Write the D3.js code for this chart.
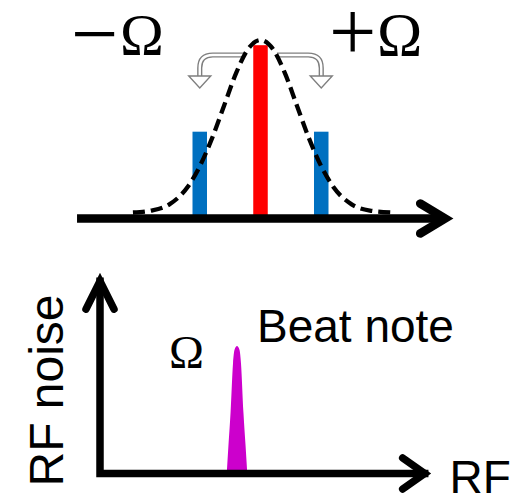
<!DOCTYPE html>
<html>
<head>
<meta charset="utf-8">
<script src="https://cdn.jsdelivr.net/npm/d3@7"></script>
<style>
  html, body { margin: 0; padding: 0; background: #fff; }
  svg { display: block; }
</style>
</head>
<body>
<svg id="chart" width="523" height="496"></svg>
<script>
// ---- Optical spectrum (frequency in units of Ω, carrier at 0) ----
const lineFreqs  = [-1, 0, 1];
const lineLevels = [0.47, 0.97, 0.47];
const lineColors = ["#0070C0", "#FF0000", "#0070C0"];

// Laser line profile drawn as a dashed envelope
const profileFreqs  = [-2.1, -1.8, -1.5, -1.2, -1.0, -0.8, -0.6, -0.4, -0.2, 0, 0.2, 0.4, 0.6, 0.8, 1.0, 1.2, 1.5, 1.8, 2.15];
const profileLevels = [0.003, 0.014, 0.05, 0.15, 0.27, 0.43, 0.62, 0.81, 0.95, 1, 0.95, 0.81, 0.62, 0.43, 0.27, 0.15, 0.05, 0.014, 0.003];

// ---- RF spectrum (frequency in units of Ω) ----
const beatFreqs  = [0.927, 0.938, 0.953, 0.971, 0.982, 1, 1.018, 1.029, 1.047, 1.062, 1.073];
const beatLevels = [0, 0.2, 0.46, 0.86, 0.97, 1, 0.97, 0.86, 0.46, 0.2, 0];

// Text
const sideLabels = ["−", "+"];
const omegaLabel = "Ω";
const beatLabel  = "Beat note";
const xLabel     = "RF";
const yLabel     = "RF noise";

const svg = d3.select("#chart");
const serif = "'Liberation Serif', 'Times New Roman', serif";
const sans  = "'Liberation Sans', Arial, sans-serif";

// ================= optical panel =================
const xTop = d3.scaleLinear().domain([-3, 3.2]).range([78.25, 454.9]);
const yTop = d3.scaleLinear().domain([0, 1]).range([213, 40]);
const topAxisY = 218.5;
const optical = svg.append("g");

// carrier and sidebands
const barW = 14.5;
optical.selectAll("rect.line")
  .data(lineFreqs.map((f, i) => ({ f, v: lineLevels[i], c: lineColors[i] })))
  .join("rect")
  .attr("class", "line")
  .attr("x", d => xTop(d.f) - barW / 2)
  .attr("width", barW)
  .attr("y", d => yTop(d.v))
  .attr("height", d => topAxisY - yTop(d.v))
  .attr("fill", d => d.c);

// hollow curved arrows from the carrier to each sideband
function hollowArrow(fromF, toF) {
  const x0 = xTop(fromF), x1 = xTop(toF);
  const yH = 55, r = 13, dir = Math.sign(x1 - x0);
  const p = d3.path();
  p.moveTo(x0, yH);
  p.lineTo(x1 - dir * r, yH);
  p.quadraticCurveTo(x1, yH, x1, yH + r);
  p.lineTo(x1, 76.5);
  const g = optical.append("g");
  g.append("path").attr("d", p.toString()).attr("fill", "none")
    .attr("stroke", "#7f7f7f").attr("stroke-width", 5.2);
  g.append("path").attr("d", p.toString()).attr("fill", "none")
    .attr("stroke", "#fff").attr("stroke-width", 2.4);
  const head = d3.path();
  head.moveTo(x1 - 11, 76);
  head.lineTo(x1 + 11, 76);
  head.lineTo(x1, 88);
  head.closePath();
  g.append("path").attr("d", head.toString())
    .attr("fill", "#fff").attr("stroke", "#7f7f7f").attr("stroke-width", 1.4)
    .attr("stroke-linejoin", "miter");
}
hollowArrow(-0.27, -1);
hollowArrow(0.27, 1);

// dashed line profile
optical.append("path")
  .datum(profileFreqs.map((f, i) => [f, profileLevels[i]]))
  .attr("d", d3.line().x(d => xTop(d[0])).y(d => yTop(d[1])).curve(d3.curveMonotoneX))
  .attr("fill", "none")
  .attr("stroke", "#000")
  .attr("stroke-width", 4.3)
  .attr("stroke-dasharray", "12,6");

// frequency axis with open arrowhead
const topEnd = xTop(3.04);
optical.append("path")
  .attr("d", d3.line()([[xTop(-3.02), topAxisY], [topEnd, topAxisY]]))
  .attr("stroke", "#000").attr("stroke-width", 8.5).attr("fill", "none");
optical.append("path")
  .attr("d", d3.line()([[topEnd - 25, topAxisY - 15], [topEnd, topAxisY], [topEnd - 25, topAxisY + 15]]))
  .attr("stroke", "#000").attr("stroke-width", 8.5).attr("fill", "none")
  .attr("stroke-linecap", "round").attr("stroke-linejoin", "miter");

// ±Ω labels
optical.append("text").attr("x", 71).attr("y", 62)
  .attr("font-family", serif).attr("font-size", 84).text(sideLabels[0]);
optical.append("text").attr("x", 120).attr("y", 55)
  .attr("font-family", serif).attr("font-size", 59).text(omegaLabel);
optical.append("text").attr("x", 329).attr("y", 60)
  .attr("font-family", serif).attr("font-size", 84).text(sideLabels[1]);
optical.append("text").attr("x", 377).attr("y", 55)
  .attr("font-family", serif).attr("font-size", 61).text(omegaLabel);

// ================= RF panel =================
const xBot = d3.scaleLinear().domain([0, 1]).range([100, 237]);
const yBot = d3.scaleLinear().domain([0, 1]).range([469, 346]);
const botAxisY = 473.5;
const rf = svg.append("g");

// beat note
rf.append("path")
  .datum(beatFreqs.map((f, i) => [f, beatLevels[i]]))
  .attr("d", d3.area().x(d => xBot(d[0])).y0(botAxisY).y1(d => yBot(d[1])).curve(d3.curveMonotoneX))
  .attr("fill", "#CC00CC");

// axes with open arrowheads
const xEnd = xBot(2.37);
const yEnd = yBot(1.527);
const axW = 7.5;
rf.append("path")
  .attr("d", d3.line()([[xBot(0), yEnd], [xBot(0), botAxisY], [xEnd, botAxisY]]))
  .attr("stroke", "#000").attr("stroke-width", axW).attr("fill", "none")
  .attr("stroke-linecap", "square").attr("stroke-linejoin", "miter");
rf.append("path")
  .attr("d", d3.line()([[xEnd - 22, botAxisY - 15.5], [xEnd, botAxisY], [xEnd - 22, botAxisY + 15.5]]))
  .attr("stroke", "#000").attr("stroke-width", axW).attr("fill", "none")
  .attr("stroke-linecap", "round").attr("stroke-linejoin", "miter");
rf.append("path")
  .attr("d", d3.line()([[xBot(0) - 14, yEnd + 28], [xBot(0), yEnd], [xBot(0) + 14, yEnd + 28]]))
  .attr("stroke", "#000").attr("stroke-width", axW).attr("fill", "none")
  .attr("stroke-linecap", "round").attr("stroke-linejoin", "miter");

// labels
rf.append("text").attr("x", 169).attr("y", 368)
  .attr("font-family", serif).attr("font-size", 47).text(omegaLabel);
rf.append("text").attr("x", 257).attr("y", 341.5)
  .attr("font-family", sans).attr("font-size", 46).text(beatLabel);
rf.append("text").attr("x", 449.5).attr("y", 493)
  .attr("font-family", sans).attr("font-size", 46).text(xLabel);
rf.append("text")
  .attr("transform", "translate(63,390.5) rotate(-90)")
  .attr("text-anchor", "middle")
  .attr("font-family", sans).attr("font-size", 48).text(yLabel);
</script>
</body>
</html>
